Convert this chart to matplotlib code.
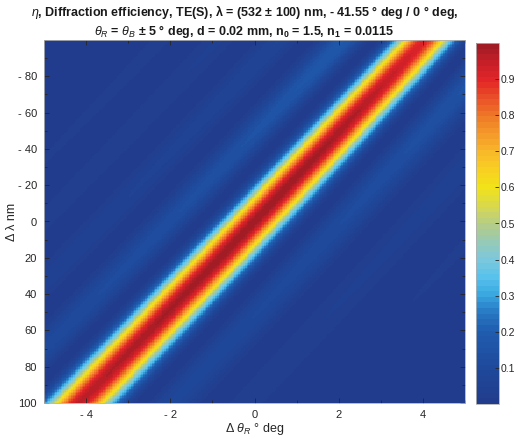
import numpy as np
import matplotlib
matplotlib.use("Agg")
import matplotlib.pyplot as plt
from matplotlib.colors import LinearSegmentedColormap
from matplotlib.ticker import FuncFormatter, MultipleLocator

# ---- grating parameters (from the title) ----
lambda0_nm = 532.0
dlambda_range_nm = 100.0
theta_ref_deg = -41.55
theta_obj_deg = 0.0
dtheta_range_deg = 5.0
d_um = 20.0          # 0.02 mm
n0 = 1.5
n1 = 0.0115

# axis ticks
x_ticks = [-4, -2, 0, 2, 4]
y_ticks = [-80, -60, -40, -20, 0, 20, 40, 60, 80, 100]
cbar_ticks = [0.1, 0.2, 0.3, 0.4, 0.5, 0.6, 0.7, 0.8, 0.9]

# colour anchors
cmap_pos = [0.0, 0.1, 0.2, 0.25, 0.3, 0.35, 0.4, 0.45, 0.5, 0.55, 0.6, 0.65,
            0.7, 0.75, 0.8, 0.85, 0.9, 0.95, 1.0]
cmap_hex = ["#213c8c", "#1f4a9c", "#205eb0", "#2878c4", "#3aa8e0", "#58c2ec",
            "#7cc8dc", "#98c9b4", "#b6cd84", "#d9d84e", "#f1e31a", "#f8d021",
            "#f9b92a", "#f49b2a", "#ef7a28", "#ea5228", "#e42628", "#c81f28",
            "#a11c24"]

# ---- Kogelnik coupled-wave model on the plotted grid ----
dtheta = np.linspace(-dtheta_range_deg, dtheta_range_deg, 241)
dlam = np.linspace(-dlambda_range_nm, dlambda_range_nm, 241)
TH, DL = np.meshgrid(dtheta, dlam)

lam0 = lambda0_nm / 1000.0
tr = np.deg2rad(theta_ref_deg)
to = np.deg2rad(theta_obj_deg)
k0 = 2 * np.pi * n0 / lam0
Kx = k0 * (np.sin(tr) - np.sin(to))
Kz = k0 * (np.cos(tr) - np.cos(to))
K = np.hypot(Kx, Kz)
phi = np.arctan2(Kx, Kz)

theta = tr + np.deg2rad(TH)
lam = lam0 + DL / 1000.0
beta = 2 * np.pi * n0 / lam
cR = np.cos(theta)
cS = np.cos(theta) - (K / beta) * np.cos(phi)
vartheta = K * np.cos(phi - theta) - K**2 * lam / (4 * np.pi * n0)
nu = np.pi * n1 * d_um / (lam * np.sqrt(cR * cS))
xi = vartheta * d_um / (2 * cS)
eta = np.sin(np.sqrt(nu**2 + xi**2))**2 / (1 + xi**2 / nu**2)

# ---- plotting ----
plt.rcParams["font.family"] = ["Liberation Sans", "DejaVu Sans"]
plt.rcParams["mathtext.fontset"] = "custom"
plt.rcParams["mathtext.rm"] = "Liberation Sans"
plt.rcParams["mathtext.it"] = "Liberation Sans:italic"
plt.rcParams["mathtext.bf"] = "Liberation Sans:bold"
plt.rcParams["mathtext.default"] = "regular"

cmap = LinearSegmentedColormap.from_list("mjet", list(zip(cmap_pos, cmap_hex)), N=64)

fig = plt.figure(figsize=(5.18, 4.40), dpi=100)
ax = fig.add_axes([44 / 518, 37 / 440, 421 / 518, 363 / 440])
cax = fig.add_axes([476 / 518, 36 / 440, 23 / 518, 361 / 440])

mesh = ax.pcolormesh(dtheta, dlam, eta, cmap=cmap, vmin=0, vmax=1,
                     shading="nearest", rasterized=True)
ax.set_xlim(-dtheta_range_deg, dtheta_range_deg)
ax.set_ylim(dlambda_range_nm, -dlambda_range_nm)

fmt = FuncFormatter(lambda v, p: f"- {abs(v):g}" if v < 0 else f"{v:g}")
ax.set_xticks(x_ticks)
ax.set_yticks(y_ticks)
ax.xaxis.set_major_formatter(fmt)
ax.yaxis.set_major_formatter(fmt)
ax.xaxis.set_minor_locator(MultipleLocator(1))
ax.yaxis.set_minor_locator(MultipleLocator(10))
tc = "#262626"
ax.tick_params(which="both", direction="in", top=True, right=True,
               color=tc, labelcolor=tc, labelsize=8, width=0.6)
ax.tick_params(which="major", length=3.5, pad=5)
ax.tick_params(which="minor", length=2)
for s in ax.spines.values():
    s.set_color("#b0b0b0")
    s.set_linewidth(0.6)

ax.set_xlabel(r"Δ $\it{θ}_R$ ° deg", fontsize=9, color=tc, labelpad=1)
ax.set_ylabel("Δ λ nm", fontsize=9, color=tc, labelpad=0)

title = (r"$\it{η}$, Diffraction efficiency, TE(S), λ = (532 ± 100) nm, - 41.55 ° deg / 0 ° deg," "\n"
         r"$\it{θ}_R$ = $\it{θ}_B$ ± 5 ° deg, d = 0.02 mm, n$_0$ = 1.5, n$_1$ = 0.0115")
ax.set_title(title, fontsize=9, fontweight="bold", color="#1a1a1a", pad=1,
             linespacing=1.2, x=0.476)

cb = fig.colorbar(mesh, cax=cax, ticks=cbar_ticks)
cb.outline.set_edgecolor("#b0b0b0")
cb.outline.set_linewidth(0.6)
cax.tick_params(direction="in", length=3, width=0.6, color=tc,
                labelcolor=tc, labelsize=7.5, pad=1.5)
cax.yaxis.set_major_formatter(FuncFormatter(lambda v, p: f"{v:.1f}"))

fig.savefig("out.png", dpi=100)
